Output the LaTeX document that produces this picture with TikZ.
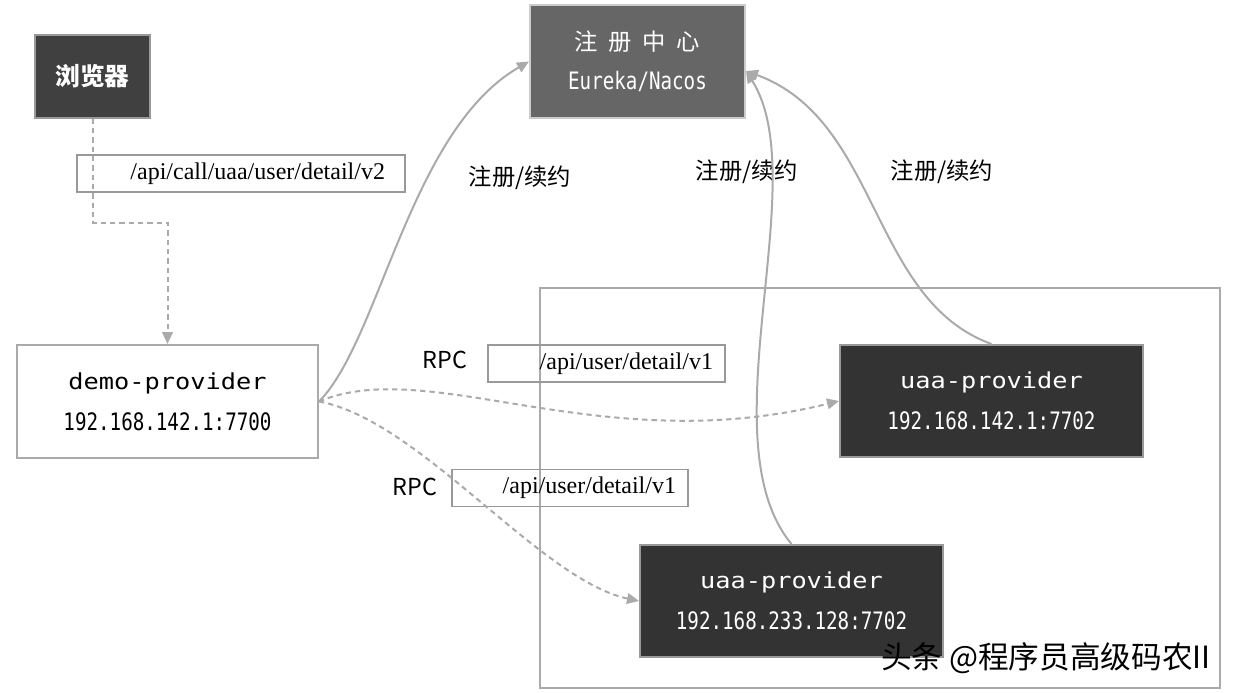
\documentclass[tikz,border=0pt]{standalone}
\usepackage{fontspec}
\setmainfont{Liberation Serif}
\newfontfamily\cjk{Noto Sans CJK SC}
\newfontfamily\namefont[FakeStretch=1.15]{DejaVu Sans Mono}
\newfontfamily\ipfont[FakeStretch=0.8]{DejaVu Sans Mono}
\usetikzlibrary{arrows.meta}

\definecolor{linegray}{HTML}{AAAAAA}
\definecolor{boxgray}{HTML}{999999}
\definecolor{browserfill}{HTML}{404040}
\definecolor{regfill}{HTML}{666666}
\definecolor{uaafill}{HTML}{333333}

\tikzset{
  darkbox/.style={draw=boxgray, line width=1.5pt, fill=uaafill, text=white,
    minimum width=227.25pt, minimum height=84pt, align=center, inner sep=0pt},
  pathbox/.style={draw=boxgray, line width=1pt, minimum height=27.75pt,
    align=right, inner xsep=9pt, inner ysep=0pt, font=\fontsize{18}{20}\selectfont},
  regline/.style={draw=linegray, line width=1.5pt, ->},
  rpcline/.style={draw=linegray, line width=1.5pt, dash pattern=on 4pt off 3pt, ->},
  cjklabel/.style={font=\cjk\fontsize{17.5}{20}\selectfont}
}

\begin{document}
\begin{tikzpicture}[x=0.75pt,y=-0.75pt, >={Triangle[length=9pt,width=8pt]}]
        \useasboundingbox (0,0) rectangle (1237,692);

        % Service cluster
        \node[draw=linegray, line width=1.5pt, minimum width=510pt, minimum height=300pt,
          inner sep=0pt] (cluster) at (880,488) {};

        % Browser
        \node[fill=browserfill, draw=boxgray, line width=1pt, text=white,
          minimum width=86.25pt, minimum height=62.25pt,
          font=\cjk\bfseries\fontsize{18.5}{20}\selectfont] (browser) at (92.5,76.5) {浏览器};

        % Registry
        \node[fill=regfill, draw=linegray!60, line width=1.5pt, text=white, align=center,
          minimum width=161.25pt, minimum height=84.75pt, inner sep=0pt] (registry) at (637.5,61.5)
          {{\cjk\fontsize{17.5}{20}\selectfont 注\kern8pt 册\kern8pt 中\kern8pt 心}\\[13pt]
           {\ipfont\fontsize{18}{20}\selectfont Eureka/Nacos}};

        % Consumer
        \node[draw=linegray, line width=1.5pt, fill=white, align=center,
          minimum width=225.75pt, minimum height=84.75pt, inner sep=0pt] (demo) at (167.5,401.5)
          {{\namefont\fontsize{16.5}{20}\selectfont demo-provider}\\[13pt]
           {\ipfont\fontsize{18}{20}\selectfont 192.168.142.1:7700}};

        % Providers
        \node[darkbox] (uaaA) at (991.5,401)
          {{\namefont\fontsize{16.5}{20}\selectfont uaa-provider}\\[13pt]
           {\ipfont\fontsize{18}{20}\selectfont 192.168.142.1:7702}};
        \node[darkbox] (uaaB) at (791.5,601)
          {{\namefont\fontsize{16.5}{20}\selectfont uaa-provider}\\[13pt]
           {\ipfont\fontsize{18}{20}\selectfont 192.168.233.128:7702}};

        % Request paths
        \node[pathbox, inner xsep=15pt, text width=216pt] (callpath) at (241,173.5) {/api/call/uaa/user/detail/v2};
        \node[pathbox, text width=159.75pt] (rpcpathA) at (606.5,363.5) {/api/user/detail/v1};
        \node[pathbox, text width=159pt] (rpcpathB) at (570,488) {/api/user/detail/v1};

        % Labels
        \node[cjklabel] (rpcA) at (445,360) {RPC};
        \node[cjklabel] (rpcB) at (415,487) {RPC};
        \node[cjklabel] (regA) at (520,178) {注册/续约};
        \node[cjklabel] (regB) at (747,172) {注册/续约};
        \node[cjklabel] (regC) at (942,172) {注册/续约};

        % Browser call
        \draw[rpcline] (browser.south) -- ++(0,104) -| (demo.north);

        % Registration
        \draw[regline] (demo.east) .. controls (380,340) and (410,130) .. (registry.west);
        \draw[regline] (uaaB.north) .. controls (705,440) and (815,180) .. (registry.-5);
        \draw[regline] (uaaA.north) .. controls (870,300) and (880,120) .. (registry.-5);

        % RPC calls
        \draw[rpcline] (demo.east) .. controls (430,355) and (600,460) .. (uaaA.west);
        \draw[rpcline] (demo.east) .. controls (420,420) and (540,580) .. (uaaB.west);

        % Watermark
        \node[font=\cjk\fontsize{23}{24}\selectfont] (mark) at (1046,658) {头条 @程序员高级码农II};
    \end{tikzpicture}
\end{document}
